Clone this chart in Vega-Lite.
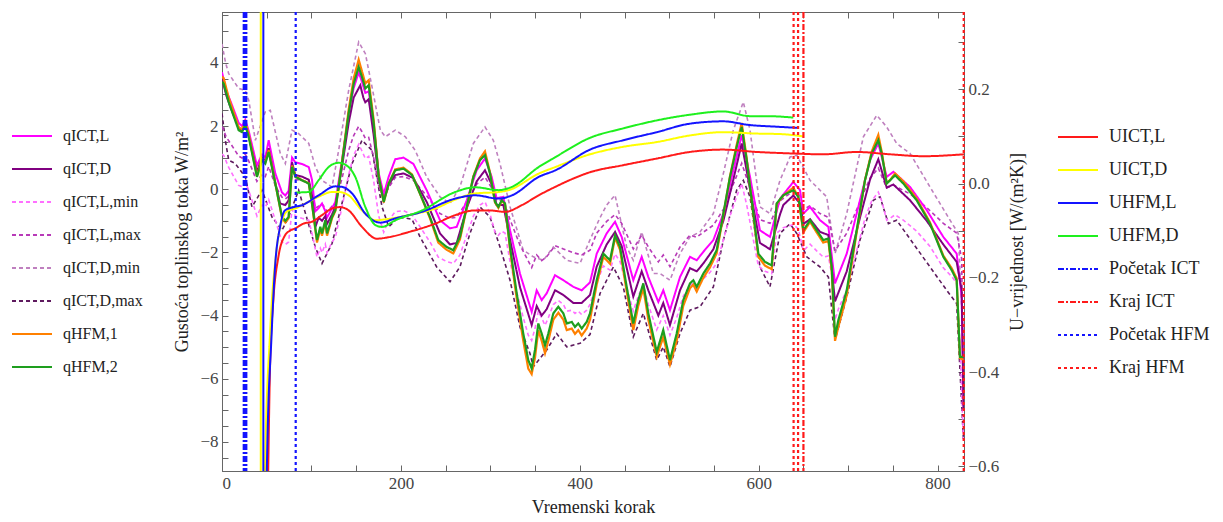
{
"$schema":"https://vega.github.io/schema/vega-lite/v6.json",
"width":742,"height":459,
"autosize":"none",
"padding":{"left":222,"top":12,"right":259,"bottom":51},
"config":{"font":"Liberation Serif","view":{"stroke":"#666","strokeWidth":1},
"axis":{"labelFont":"Liberation Serif","titleFont":"Liberation Serif","labelFontSize":17,"titleFontSize":18,"titleFontWeight":"normal","labelColor":"#444","titleColor":"#222","domainColor":"#666","tickColor":"#666","grid":false,"tickSize":-6,"labelPadding":10}},
"datasets":{
"qa":[{"x":0,"v":4.6},{"x":4,"v":4.0},{"x":7.5,"v":3.66},{"x":18.6,"v":3.19},{"x":26,"v":3.13},{"x":30,"v":2.8},{"x":37.3,"v":1.55},{"x":48.4,"v":2.45},{"x":54,"v":2.5},{"x":65.2,"v":1.13},{"x":70.8,"v":0.81},{"x":78.3,"v":1.87},{"x":85.7,"v":1.76},{"x":97,"v":1.45},{"x":104.3,"v":0.71},{"x":111.8,"v":0.28},{"x":123,"v":0.07},{"x":130.4,"v":1.23},{"x":141.6,"v":3.13},{"x":152.8,"v":4.66},{"x":160.3,"v":4.29},{"x":167.7,"v":3.24},{"x":177,"v":1.87},{"x":182.6,"v":1.66},{"x":193.7,"v":1.87},{"x":205,"v":1.66},{"x":216,"v":1.23},{"x":228.8,"v":0.39},{"x":243.7,"v":-0.24},{"x":254.9,"v":-0.45},{"x":266,"v":0.07},{"x":281,"v":1.45},{"x":294,"v":1.97},{"x":303.3,"v":1.55},{"x":310.8,"v":0.81},{"x":322,"v":-0.56},{"x":336.8,"v":-1.93},{"x":348,"v":-2.14},{"x":359.2,"v":-2.25},{"x":370.4,"v":-1.83},{"x":385.4,"v":-2.25},{"x":400.2,"v":-2.35},{"x":411.4,"v":-1.6},{"x":422.6,"v":-0.9},{"x":430,"v":-0.5},{"x":439.4,"v":-0.19},{"x":452.4,"v":-1.83},{"x":459.8,"v":-2.25},{"x":469.2,"v":-1.35},{"x":482.2,"v":-2.67},{"x":489.7,"v":-2.67},{"x":500.8,"v":-2.88},{"x":512,"v":-2.04},{"x":523.2,"v":-1.51},{"x":534.4,"v":-1.35},{"x":549.3,"v":-0.77},{"x":560.5,"v":0.5},{"x":571.6,"v":1.87},{"x":582.8,"v":2.76},{"x":590.3,"v":1.87},{"x":601.4,"v":-0.56},{"x":612.6,"v":-0.77},{"x":623.8,"v":0.28},{"x":635,"v":1.02},{"x":642.5,"v":1.08},{"x":657.4,"v":0.28},{"x":676,"v":-0.24},{"x":685.3,"v":-2.04},{"x":698.4,"v":-0.77},{"x":717,"v":1.66},{"x":732,"v":2.34},{"x":743.1,"v":1.97},{"x":754.2,"v":1.45},{"x":769.2,"v":1.13},{"x":791.5,"v":0.07},{"x":813.9,"v":-0.98},{"x":823.1,"v":-1.4},{"x":829,"v":-5.0}],
"qd":[{"x":0,"v":2.4},{"x":4,"v":1.5},{"x":7.5,"v":0.92},{"x":14.9,"v":0.81},{"x":26,"v":0.39},{"x":33.5,"v":-0.56},{"x":44.7,"v":-0.03},{"x":55.9,"v":-0.88},{"x":67.1,"v":-1.3},{"x":74.5,"v":-0.88},{"x":85.7,"v":-0.03},{"x":104.3,"v":-1.83},{"x":111.8,"v":-2.35},{"x":123,"v":-1.72},{"x":134.1,"v":-0.45},{"x":145.4,"v":0.81},{"x":156.5,"v":1.55},{"x":167.7,"v":1.23},{"x":178.9,"v":-0.56},{"x":186.4,"v":-1.19},{"x":197.5,"v":-0.88},{"x":212.4,"v":-0.95},{"x":221.4,"v":-1.51},{"x":240,"v":-2.46},{"x":254.9,"v":-2.93},{"x":266,"v":-2.46},{"x":277.2,"v":-1.4},{"x":288.4,"v":-0.56},{"x":299.6,"v":-0.88},{"x":310.8,"v":-1.83},{"x":322,"v":-2.88},{"x":333.1,"v":-4.36},{"x":344.3,"v":-5.2},{"x":348,"v":-5.62},{"x":363,"v":-5.09},{"x":374.2,"v":-4.57},{"x":385.4,"v":-4.99},{"x":400.2,"v":-4.88},{"x":411.4,"v":-4.6},{"x":422.6,"v":-3.3},{"x":437.5,"v":-2.46},{"x":448.6,"v":-3.09},{"x":459.8,"v":-4.67},{"x":471,"v":-3.93},{"x":486,"v":-5.41},{"x":493.3,"v":-4.99},{"x":500.8,"v":-5.62},{"x":512,"v":-4.57},{"x":523.2,"v":-3.83},{"x":534.4,"v":-3.72},{"x":549.3,"v":-3.09},{"x":560.5,"v":-1.61},{"x":575.4,"v":-0.03},{"x":582.8,"v":0.28},{"x":590.3,"v":-0.24},{"x":601.4,"v":-2.46},{"x":612.6,"v":-3.09},{"x":623.8,"v":-1.4},{"x":635,"v":-1.09},{"x":642.5,"v":-1.4},{"x":653.7,"v":-2.14},{"x":668.5,"v":-2.46},{"x":677.9,"v":-2.78},{"x":685.3,"v":-4.78},{"x":698.4,"v":-3.41},{"x":713.2,"v":-1.61},{"x":728.1,"v":-0.35},{"x":735.6,"v":-0.24},{"x":745,"v":-1.09},{"x":754.2,"v":-0.98},{"x":772.8,"v":-1.72},{"x":791.5,"v":-2.46},{"x":810.2,"v":-3.2},{"x":821.3,"v":-3.62},{"x":829,"v":-8.0}],
"qb":[{"x":0,"v":1.11},{"x":1.9,"v":1.07},{"x":7.5,"v":0.69},{"x":18.6,"v":0.12},{"x":22.4,"v":0.08},{"x":26,"v":0.22},{"x":29.8,"v":-0.02},{"x":39.1,"v":-0.85},{"x":44.7,"v":-0.5},{"x":48.4,"v":-0.57},{"x":52.2,"v":-0.33},{"x":59.6,"v":-0.98},{"x":67.1,"v":-1.67},{"x":70.8,"v":-1.75},{"x":74.5,"v":-1.67},{"x":78.3,"v":-0.64},{"x":82,"v":-0.85},{"x":89.4,"v":-0.92},{"x":97,"v":-0.98},{"x":100.6,"v":-1.39},{"x":106.2,"v":-2.15},{"x":109.9,"v":-1.87},{"x":111.8,"v":-2.01},{"x":115.5,"v":-1.74},{"x":117.4,"v":-2.01},{"x":123,"v":-1.67},{"x":126.7,"v":-1.53},{"x":134.1,"v":-0.57},{"x":141.6,"v":0.46},{"x":147.2,"v":1.07},{"x":152.8,"v":1.42},{"x":156.5,"v":1.21},{"x":160.2,"v":0.97},{"x":164,"v":1.04},{"x":169.6,"v":0.25},{"x":175.2,"v":-0.85},{"x":180.8,"v":-1.36},{"x":186.4,"v":-0.98},{"x":193.7,"v":-0.71},{"x":203,"v":-0.68},{"x":212.4,"v":-0.81},{"x":221.4,"v":-1.19},{"x":232.5,"v":-1.67},{"x":241.8,"v":-2.15},{"x":251.2,"v":-2.29},{"x":258.6,"v":-2.35},{"x":266,"v":-2.08},{"x":273.6,"v":-1.46},{"x":281,"v":-0.85},{"x":288.4,"v":-0.5},{"x":294,"v":-0.4},{"x":299.6,"v":-0.78},{"x":305.2,"v":-1.36},{"x":309,"v":-1.46},{"x":312.7,"v":-1.33},{"x":316.4,"v":-1.39},{"x":322,"v":-2.29},{"x":329.5,"v":-3.25},{"x":336.8,"v":-4.07},{"x":342.4,"v":-4.62},{"x":346.2,"v":-4.79},{"x":349.9,"v":-4.41},{"x":353.6,"v":-3.86},{"x":357.4,"v":-4.07},{"x":361.1,"v":-4.31},{"x":364.8,"v":-4.07},{"x":370.4,"v":-3.65},{"x":376,"v":-3.52},{"x":381.6,"v":-3.65},{"x":385.4,"v":-3.86},{"x":391,"v":-3.83},{"x":394.6,"v":-3.93},{"x":398.3,"v":-3.86},{"x":402.1,"v":-3.97},{"x":407.7,"v":-3.83},{"x":411.4,"v":-3.65},{"x":418.9,"v":-2.97},{"x":426.3,"v":-2.43},{"x":433.8,"v":-2.56},{"x":439.4,"v":-2.05},{"x":445,"v":-2.29},{"x":452.4,"v":-3.11},{"x":459.8,"v":-3.86},{"x":465.4,"v":-3.38},{"x":471,"v":-3.04},{"x":476.6,"v":-3.65},{"x":486,"v":-4.45},{"x":493.3,"v":-4.0},{"x":500.8,"v":-4.62},{"x":508.3,"v":-4.07},{"x":515.7,"v":-3.38},{"x":523.2,"v":-3.04},{"x":526.9,"v":-2.97},{"x":530.7,"v":-3.11},{"x":538.1,"v":-2.84},{"x":545.6,"v":-2.63},{"x":553,"v":-2.35},{"x":560.5,"v":-1.6},{"x":567.9,"v":-0.85},{"x":575.4,"v":-0.23},{"x":581,"v":0.18},{"x":586.6,"v":-0.5},{"x":594,"v":-1.6},{"x":599.6,"v":-2.43},{"x":607,"v":-2.6},{"x":614.5,"v":-2.67},{"x":620.1,"v":-1.39},{"x":627.5,"v":-1.22},{"x":638.7,"v":-1.12},{"x":644.3,"v":-1.26},{"x":649.9,"v":-1.95},{"x":657.4,"v":-1.74},{"x":664.8,"v":-1.95},{"x":672.2,"v":-2.15},{"x":677.9,"v":-2.11},{"x":681.6,"v":-2.7},{"x":685.3,"v":-4.14},{"x":689,"v":-3.8},{"x":698.4,"v":-3.18},{"x":709.5,"v":-1.95},{"x":718.8,"v":-0.92},{"x":726.3,"v":-0.37},{"x":733.7,"v":-0.09},{"x":737.5,"v":-0.37},{"x":743.1,"v":-0.98},{"x":746.8,"v":-0.92},{"x":752.4,"v":-0.81},{"x":761.7,"v":-0.98},{"x":776.6,"v":-1.33},{"x":791.5,"v":-1.81},{"x":806.4,"v":-2.49},{"x":815.7,"v":-2.76},{"x":821.3,"v":-2.97},{"x":825,"v":-5.0},{"x":829,"v":-8.0}],
"qc":[{"x":0,"v":1.99},{"x":5,"v":1.64},{"x":10,"v":1.43},{"x":18.6,"v":1.05},{"x":22.4,"v":0.99},{"x":26,"v":1.11},{"x":29.8,"v":0.9},{"x":39,"v":0.25},{"x":44.7,"v":0.46},{"x":48.4,"v":0.4},{"x":52.2,"v":0.72},{"x":59.6,"v":0.11},{"x":67,"v":-0.25},{"x":70.8,"v":-0.31},{"x":74.5,"v":-0.22},{"x":78.3,"v":0.4},{"x":82,"v":0.31},{"x":89.4,"v":0.28},{"x":97,"v":0.22},{"x":100.6,"v":-0.01},{"x":104.3,"v":-0.6},{"x":108,"v":-0.54},{"x":111.8,"v":-0.46},{"x":115.5,"v":-0.6},{"x":117.4,"v":-0.72},{"x":123,"v":-0.54},{"x":126.7,"v":-0.43},{"x":134.1,"v":0.34},{"x":141.6,"v":1.23},{"x":147.2,"v":1.7},{"x":152.8,"v":1.99},{"x":156.5,"v":1.82},{"x":160.2,"v":1.61},{"x":164,"v":1.64},{"x":169.6,"v":0.99},{"x":175.2,"v":0.11},{"x":180.8,"v":-0.28},{"x":186.4,"v":0.05},{"x":193.7,"v":0.37},{"x":203,"v":0.4},{"x":214,"v":0.28},{"x":228.8,"v":-0.21},{"x":243.7,"v":-0.77},{"x":254.9,"v":-0.92},{"x":262.4,"v":-0.89},{"x":273.6,"v":-0.4},{"x":284.7,"v":0.16},{"x":294,"v":0.38},{"x":301.5,"v":0.04},{"x":307,"v":-0.36},{"x":314.5,"v":-0.33},{"x":322,"v":-0.96},{"x":333.1,"v":-1.77},{"x":346.2,"v":-2.48},{"x":351.8,"v":-2.08},{"x":357.4,"v":-2.26},{"x":362.9,"v":-2.14},{"x":372.3,"v":-1.79},{"x":381.6,"v":-1.89},{"x":392.8,"v":-2.01},{"x":402.1,"v":-2.08},{"x":411.4,"v":-1.93},{"x":418.9,"v":-1.39},{"x":430,"v":-1.02},{"x":439.4,"v":-0.8},{"x":446.8,"v":-1.08},{"x":459.8,"v":-1.89},{"x":469.2,"v":-1.45},{"x":476.6,"v":-1.83},{"x":487.8,"v":-2.3},{"x":493.3,"v":-2.08},{"x":500.8,"v":-2.45},{"x":512,"v":-1.83},{"x":523.2,"v":-1.45},{"x":530.7,"v":-1.52},{"x":538.1,"v":-1.36},{"x":549.3,"v":-1.14},{"x":560.5,"v":-0.64},{"x":571.6,"v":0.16},{"x":581,"v":0.82},{"x":590.3,"v":0.04},{"x":601.4,"v":-0.96},{"x":612.6,"v":-1.08},{"x":623.8,"v":-0.37},{"x":638.7,"v":-0.05},{"x":646.2,"v":-0.21},{"x":649.9,"v":-0.64},{"x":657.4,"v":-0.52},{"x":668.5,"v":-0.77},{"x":677.9,"v":-0.89},{"x":685.3,"v":-1.95},{"x":698.4,"v":-1.39},{"x":713.2,"v":-0.4},{"x":724.4,"v":0.35},{"x":733.7,"v":0.67},{"x":743.1,"v":0.04},{"x":750.5,"v":0.13},{"x":769.2,"v":-0.15},{"x":787.8,"v":-0.58},{"x":806.4,"v":-1.08},{"x":821.3,"v":-1.39},{"x":826.9,"v":-2.2},{"x":829,"v":-7.0}],
"qm":[{"x":0,"v":3.7},{"x":5,"v":3.1},{"x":10,"v":2.75},{"x":18.6,"v":2.1},{"x":22.4,"v":2.0},{"x":26,"v":2.2},{"x":29.8,"v":1.85},{"x":39,"v":0.75},{"x":44.7,"v":1.1},{"x":48.4,"v":1.0},{"x":52.2,"v":1.55},{"x":59.6,"v":0.5},{"x":67,"v":-0.1},{"x":70.8,"v":-0.2},{"x":74.5,"v":-0.05},{"x":78.3,"v":1.0},{"x":82,"v":0.85},{"x":89.4,"v":0.8},{"x":97,"v":0.7},{"x":100.6,"v":0.3},{"x":104.3,"v":-0.7},{"x":108,"v":-0.6},{"x":111.8,"v":-0.45},{"x":115.5,"v":-0.7},{"x":117.4,"v":-0.9},{"x":123,"v":-0.6},{"x":126.7,"v":-0.4},{"x":134.1,"v":0.9},{"x":141.6,"v":2.4},{"x":147.2,"v":3.2},{"x":152.8,"v":3.7},{"x":156.5,"v":3.4},{"x":160.2,"v":3.05},{"x":164,"v":3.1},{"x":169.6,"v":2.0},{"x":175.2,"v":0.5},{"x":180.8,"v":-0.15},{"x":186.4,"v":0.4},{"x":193.7,"v":0.95},{"x":203,"v":1.0},{"x":214,"v":0.8},{"x":228.8,"v":-0.03},{"x":243.7,"v":-0.98},{"x":254.9,"v":-1.24},{"x":262.4,"v":-1.19},{"x":273.6,"v":-0.35},{"x":284.7,"v":0.6},{"x":294,"v":0.97},{"x":301.5,"v":0.39},{"x":307,"v":-0.29},{"x":314.5,"v":-0.24},{"x":322,"v":-1.3},{"x":333.1,"v":-2.67},{"x":346.2,"v":-3.88},{"x":351.8,"v":-3.2},{"x":357.4,"v":-3.51},{"x":362.9,"v":-3.3},{"x":372.3,"v":-2.72},{"x":381.6,"v":-2.88},{"x":392.8,"v":-3.09},{"x":402.1,"v":-3.2},{"x":411.4,"v":-2.95},{"x":418.9,"v":-2.04},{"x":430,"v":-1.4},{"x":439.4,"v":-1.03},{"x":446.8,"v":-1.51},{"x":459.8,"v":-2.88},{"x":469.2,"v":-2.14},{"x":476.6,"v":-2.78},{"x":487.8,"v":-3.57},{"x":493.3,"v":-3.2},{"x":500.8,"v":-3.83},{"x":512,"v":-2.78},{"x":523.2,"v":-2.14},{"x":530.7,"v":-2.25},{"x":538.1,"v":-1.98},{"x":549.3,"v":-1.61},{"x":560.5,"v":-0.77},{"x":571.6,"v":0.6},{"x":581,"v":1.71},{"x":590.3,"v":0.39},{"x":601.4,"v":-1.3},{"x":612.6,"v":-1.51},{"x":623.8,"v":-0.3},{"x":638.7,"v":0.23},{"x":646.2,"v":-0.03},{"x":649.9,"v":-0.77},{"x":657.4,"v":-0.56},{"x":668.5,"v":-0.98},{"x":677.9,"v":-1.19},{"x":685.3,"v":-2.98},{"x":698.4,"v":-2.04},{"x":713.2,"v":-0.35},{"x":724.4,"v":0.92},{"x":733.7,"v":1.45},{"x":743.1,"v":0.39},{"x":750.5,"v":0.55},{"x":769.2,"v":0.07},{"x":787.8,"v":-0.66},{"x":806.4,"v":-1.51},{"x":821.3,"v":-2.04},{"x":826.9,"v":-3.41},{"x":829,"v":-6.5}],
"qp":[{"x":0,"v":3.5},{"x":5,"v":2.95},{"x":10,"v":2.55},{"x":18.6,"v":1.95},{"x":22.4,"v":1.85},{"x":26,"v":2.05},{"x":29.8,"v":1.7},{"x":39,"v":0.55},{"x":44.7,"v":1.0},{"x":48.4,"v":0.9},{"x":52.2,"v":1.3},{"x":59.6,"v":0.2},{"x":65,"v":-0.45},{"x":70.8,"v":-0.5},{"x":74.5,"v":-0.35},{"x":78.3,"v":0.85},{"x":82,"v":0.45},{"x":89.4,"v":0.4},{"x":97,"v":0.3},{"x":100.6,"v":-0.2},{"x":104.3,"v":-1.2},{"x":108,"v":-0.9},{"x":111.8,"v":-1.0},{"x":115.5,"v":-0.85},{"x":117.4,"v":-1.1},{"x":123,"v":-0.8},{"x":126.7,"v":-0.55},{"x":134.1,"v":0.7},{"x":141.6,"v":2.1},{"x":147.2,"v":2.9},{"x":154.6,"v":3.29},{"x":158,"v":2.9},{"x":160.2,"v":2.75},{"x":164,"v":2.85},{"x":169.6,"v":1.7},{"x":175.2,"v":0.3},{"x":180.8,"v":-0.35},{"x":186.4,"v":0.15},{"x":193.7,"v":0.45},{"x":203,"v":0.5},{"x":214,"v":0.35},{"x":228.8,"v":-0.4},{"x":243.7,"v":-1.4},{"x":254.9,"v":-1.75},{"x":262.4,"v":-1.7},{"x":273.6,"v":-0.6},{"x":284.7,"v":0.25},{"x":294,"v":0.6},{"x":301.5,"v":0.15},{"x":307,"v":-0.5},{"x":314.5,"v":-0.5},{"x":322,"v":-1.6},{"x":333.1,"v":-3.1},{"x":346.2,"v":-4.3},{"x":351.8,"v":-3.7},{"x":357.4,"v":-4.0},{"x":362.9,"v":-3.8},{"x":372.3,"v":-3.2},{"x":381.6,"v":-3.35},{"x":392.8,"v":-3.6},{"x":402.1,"v":-3.6},{"x":411.4,"v":-3.35},{"x":418.9,"v":-2.45},{"x":430,"v":-1.75},{"x":439.4,"v":-1.35},{"x":446.8,"v":-1.8},{"x":459.8,"v":-3.4},{"x":469.2,"v":-2.6},{"x":476.6,"v":-3.2},{"x":487.8,"v":-4.0},{"x":493.3,"v":-3.6},{"x":500.8,"v":-4.3},{"x":512,"v":-3.2},{"x":523.2,"v":-2.5},{"x":530.7,"v":-2.6},{"x":538.1,"v":-2.35},{"x":549.3,"v":-1.9},{"x":560.5,"v":-1.0},{"x":571.6,"v":0.3},{"x":581,"v":1.45},{"x":590.3,"v":0.0},{"x":601.4,"v":-1.7},{"x":612.6,"v":-1.9},{"x":623.8,"v":-0.8},{"x":627.5,"v":-0.5},{"x":638.7,"v":-0.2},{"x":646.2,"v":-0.45},{"x":649.9,"v":-1.1},{"x":657.4,"v":-0.95},{"x":668.5,"v":-1.35},{"x":677.9,"v":-1.45},{"x":685.3,"v":-3.55},{"x":698.4,"v":-2.6},{"x":713.2,"v":-0.9},{"x":724.4,"v":0.3},{"x":733.7,"v":0.95},{"x":743.1,"v":0.05},{"x":750.5,"v":0.15},{"x":769.2,"v":-0.35},{"x":787.8,"v":-1.0},{"x":806.4,"v":-1.75},{"x":821.3,"v":-2.3},{"x":826.9,"v":-3.2},{"x":829,"v":-7.0}],
"qo":[{"x":0,"v":3.57},{"x":1.9,"v":3.51},{"x":7.5,"v":2.9},{"x":18.6,"v":1.96},{"x":22.4,"v":1.9},{"x":26,"v":2.13},{"x":29.8,"v":1.74},{"x":39.1,"v":0.41},{"x":44.7,"v":0.97},{"x":48.4,"v":0.85},{"x":52.2,"v":1.24},{"x":59.6,"v":0.19},{"x":67.1,"v":-0.92},{"x":70.8,"v":-1.05},{"x":74.5,"v":-0.92},{"x":78.3,"v":0.75},{"x":82,"v":0.41},{"x":89.4,"v":0.29},{"x":97,"v":0.19},{"x":100.6,"v":-0.47},{"x":106.2,"v":-1.69},{"x":109.9,"v":-1.25},{"x":111.8,"v":-1.47},{"x":115.5,"v":-1.03},{"x":117.4,"v":-1.47},{"x":123,"v":-0.92},{"x":126.7,"v":-0.69},{"x":134.1,"v":0.85},{"x":141.6,"v":2.52},{"x":147.2,"v":3.51},{"x":152.8,"v":4.1},{"x":156.5,"v":3.73},{"x":160.2,"v":3.35},{"x":164,"v":3.45},{"x":169.6,"v":2.18},{"x":175.2,"v":0.41},{"x":180.8,"v":-0.42},{"x":186.4,"v":0.19},{"x":193.7,"v":0.63},{"x":203,"v":0.68},{"x":212.4,"v":0.47},{"x":221.4,"v":-0.15},{"x":232.5,"v":-0.92},{"x":241.8,"v":-1.69},{"x":251.2,"v":-1.92},{"x":258.6,"v":-2.03},{"x":266,"v":-1.59},{"x":273.6,"v":-0.59},{"x":281,"v":0.41},{"x":288.4,"v":0.97},{"x":294,"v":1.2},{"x":299.6,"v":0.53},{"x":305.2,"v":-0.42},{"x":309,"v":-0.59},{"x":312.7,"v":-0.37},{"x":316.4,"v":-0.47},{"x":322,"v":-1.92},{"x":329.5,"v":-3.47},{"x":336.8,"v":-4.8},{"x":342.4,"v":-5.68},{"x":346.2,"v":-5.85},{"x":349.9,"v":-5.34},{"x":353.6,"v":-4.46},{"x":357.4,"v":-4.8},{"x":361.1,"v":-5.19},{"x":364.8,"v":-4.8},{"x":370.4,"v":-4.13},{"x":376,"v":-3.91},{"x":381.6,"v":-4.13},{"x":385.4,"v":-4.46},{"x":391,"v":-4.41},{"x":394.6,"v":-4.58},{"x":398.3,"v":-4.46},{"x":402.1,"v":-4.63},{"x":407.7,"v":-4.41},{"x":411.4,"v":-4.13},{"x":418.9,"v":-3.02},{"x":426.3,"v":-2.14},{"x":433.8,"v":-2.36},{"x":439.4,"v":-1.53},{"x":445,"v":-1.92},{"x":452.4,"v":-3.24},{"x":459.8,"v":-4.46},{"x":465.4,"v":-3.69},{"x":471,"v":-3.13},{"x":476.6,"v":-4.13},{"x":486,"v":-5.3},{"x":493.3,"v":-4.68},{"x":500.8,"v":-5.55},{"x":508.3,"v":-4.8},{"x":515.7,"v":-3.69},{"x":523.2,"v":-3.13},{"x":526.9,"v":-3.02},{"x":530.7,"v":-3.24},{"x":538.1,"v":-2.8},{"x":545.6,"v":-2.47},{"x":553,"v":-2.03},{"x":560.5,"v":-0.81},{"x":567.9,"v":0.41},{"x":575.4,"v":1.41},{"x":581,"v":2.1},{"x":586.6,"v":0.97},{"x":594,"v":-0.81},{"x":599.6,"v":-2.14},{"x":607,"v":-2.42},{"x":614.5,"v":-2.53},{"x":620.1,"v":-0.47},{"x":627.5,"v":-0.2},{"x":638.7,"v":0.05},{"x":644.3,"v":-0.25},{"x":649.9,"v":-1.37},{"x":657.4,"v":-1.03},{"x":664.8,"v":-1.37},{"x":672.2,"v":-1.69},{"x":677.9,"v":-1.64},{"x":681.6,"v":-2.58},{"x":685.3,"v":-4.8},{"x":689,"v":-4.36},{"x":698.4,"v":-3.36},{"x":709.5,"v":-1.37},{"x":718.8,"v":0.29},{"x":726.3,"v":1.19},{"x":733.7,"v":1.72},{"x":737.5,"v":1.19},{"x":743.1,"v":0.19},{"x":746.8,"v":0.29},{"x":752.4,"v":0.5},{"x":761.7,"v":0.25},{"x":776.6,"v":-0.3},{"x":791.5,"v":-1.05},{"x":806.4,"v":-2.1},{"x":815.7,"v":-2.5},{"x":821.3,"v":-2.82},{"x":825,"v":-5.35},{"x":829,"v":-5.4}],
"qg":[{"x":0,"v":3.4},{"x":1.9,"v":3.34},{"x":7.5,"v":2.76},{"x":18.6,"v":1.87},{"x":22.4,"v":1.81},{"x":26,"v":2.03},{"x":29.8,"v":1.66},{"x":39.1,"v":0.39},{"x":44.7,"v":0.92},{"x":48.4,"v":0.81},{"x":52.2,"v":1.18},{"x":59.6,"v":0.18},{"x":67.1,"v":-0.88},{"x":70.8,"v":-1.0},{"x":74.5,"v":-0.88},{"x":78.3,"v":0.71},{"x":82,"v":0.39},{"x":89.4,"v":0.28},{"x":97,"v":0.18},{"x":100.6,"v":-0.45},{"x":106.2,"v":-1.61},{"x":109.9,"v":-1.19},{"x":111.8,"v":-1.4},{"x":115.5,"v":-0.98},{"x":117.4,"v":-1.4},{"x":123,"v":-0.88},{"x":126.7,"v":-0.66},{"x":134.1,"v":0.81},{"x":141.6,"v":2.4},{"x":147.2,"v":3.34},{"x":152.8,"v":3.87},{"x":156.5,"v":3.55},{"x":160.2,"v":3.19},{"x":164,"v":3.29},{"x":169.6,"v":2.08},{"x":175.2,"v":0.39},{"x":180.8,"v":-0.4},{"x":186.4,"v":0.18},{"x":193.7,"v":0.6},{"x":203,"v":0.65},{"x":212.4,"v":0.45},{"x":221.4,"v":-0.14},{"x":232.5,"v":-0.88},{"x":241.8,"v":-1.61},{"x":251.2,"v":-1.83},{"x":258.6,"v":-1.93},{"x":266,"v":-1.51},{"x":273.6,"v":-0.56},{"x":281,"v":0.39},{"x":288.4,"v":0.92},{"x":294,"v":1.08},{"x":299.6,"v":0.5},{"x":305.2,"v":-0.4},{"x":309,"v":-0.56},{"x":312.7,"v":-0.35},{"x":316.4,"v":-0.45},{"x":322,"v":-1.83},{"x":329.5,"v":-3.3},{"x":336.8,"v":-4.57},{"x":342.4,"v":-5.41},{"x":346.2,"v":-5.67},{"x":349.9,"v":-5.09},{"x":353.6,"v":-4.25},{"x":357.4,"v":-4.57},{"x":361.1,"v":-4.94},{"x":364.8,"v":-4.57},{"x":370.4,"v":-3.93},{"x":376,"v":-3.72},{"x":381.6,"v":-3.93},{"x":385.4,"v":-4.25},{"x":391,"v":-4.2},{"x":394.6,"v":-4.36},{"x":398.3,"v":-4.25},{"x":402.1,"v":-4.41},{"x":407.7,"v":-4.2},{"x":411.4,"v":-3.93},{"x":418.9,"v":-2.88},{"x":426.3,"v":-2.04},{"x":433.8,"v":-2.25},{"x":439.4,"v":-1.46},{"x":445,"v":-1.83},{"x":452.4,"v":-3.09},{"x":459.8,"v":-4.25},{"x":465.4,"v":-3.51},{"x":471,"v":-2.98},{"x":476.6,"v":-3.93},{"x":486,"v":-5.15},{"x":493.3,"v":-4.46},{"x":500.8,"v":-5.41},{"x":508.3,"v":-4.57},{"x":515.7,"v":-3.51},{"x":523.2,"v":-2.98},{"x":526.9,"v":-2.88},{"x":530.7,"v":-3.09},{"x":538.1,"v":-2.67},{"x":545.6,"v":-2.35},{"x":553,"v":-1.93},{"x":560.5,"v":-0.77},{"x":567.9,"v":0.39},{"x":575.4,"v":1.34},{"x":581,"v":1.97},{"x":586.6,"v":0.92},{"x":594,"v":-0.77},{"x":599.6,"v":-2.04},{"x":607,"v":-2.3},{"x":614.5,"v":-2.41},{"x":620.1,"v":-0.45},{"x":627.5,"v":-0.19},{"x":638.7,"v":-0.03},{"x":644.3,"v":-0.24},{"x":649.9,"v":-1.3},{"x":657.4,"v":-0.98},{"x":664.8,"v":-1.3},{"x":672.2,"v":-1.61},{"x":677.9,"v":-1.56},{"x":681.6,"v":-2.46},{"x":685.3,"v":-4.67},{"x":689,"v":-4.15},{"x":698.4,"v":-3.2},{"x":709.5,"v":-1.3},{"x":718.8,"v":0.28},{"x":726.3,"v":1.13},{"x":733.7,"v":1.55},{"x":737.5,"v":1.13},{"x":743.1,"v":0.18},{"x":746.8,"v":0.28},{"x":752.4,"v":0.44},{"x":761.7,"v":0.18},{"x":776.6,"v":-0.35},{"x":791.5,"v":-1.09},{"x":806.4,"v":-2.14},{"x":815.7,"v":-2.56},{"x":821.3,"v":-2.88},{"x":825,"v":-5.31},{"x":829,"v":-5.31}],
"ul":[{"x":51,"v":-0.7},{"x":53.7,"v":-0.389},{"x":57.4,"v":-0.247},{"x":63,"v":-0.156},{"x":70.4,"v":-0.11},{"x":76,"v":-0.1},{"x":82,"v":-0.095},{"x":91,"v":-0.085},{"x":100.6,"v":-0.081},{"x":111.8,"v":-0.067},{"x":123,"v":-0.053},{"x":132,"v":-0.05},{"x":141.6,"v":-0.057},{"x":156.5,"v":-0.092},{"x":173,"v":-0.117},{"x":186,"v":-0.114},{"x":208.7,"v":-0.103},{"x":238.5,"v":-0.085},{"x":260.8,"v":-0.067},{"x":283,"v":-0.057},{"x":298,"v":-0.057},{"x":316.8,"v":-0.06},{"x":335,"v":-0.046},{"x":354,"v":-0.025},{"x":372.6,"v":-0.007},{"x":392,"v":0.01},{"x":411.4,"v":0.024},{"x":448.6,"v":0.039},{"x":486,"v":0.053},{"x":523,"v":0.067},{"x":560.4,"v":0.072},{"x":597.7,"v":0.067},{"x":635,"v":0.064},{"x":672.2,"v":0.062},{"x":709.5,"v":0.067},{"x":747,"v":0.062},{"x":784,"v":0.058},{"x":829.5,"v":0.062}],
"ud":[{"x":43.3,"v":5},{"x":43.4,"v":-5},{"x":48,"v":-0.62},{"x":53.7,"v":-0.318},{"x":61,"v":-0.141},{"x":68.5,"v":-0.071},{"x":74.5,"v":-0.057},{"x":82,"v":-0.053},{"x":89.4,"v":-0.046},{"x":108,"v":-0.028},{"x":123,"v":-0.018},{"x":130.4,"v":-0.018},{"x":141.6,"v":-0.025},{"x":156.5,"v":-0.057},{"x":171.4,"v":-0.078},{"x":182.6,"v":-0.076},{"x":208.7,"v":-0.067},{"x":238.5,"v":-0.053},{"x":260.8,"v":-0.034},{"x":283,"v":-0.021},{"x":309.3,"v":-0.018},{"x":320.5,"v":-0.014},{"x":354,"v":0.021},{"x":372.6,"v":0.035},{"x":411.4,"v":0.062},{"x":448.6,"v":0.078},{"x":486,"v":0.088},{"x":523,"v":0.102},{"x":560.4,"v":0.109},{"x":597.7,"v":0.106},{"x":623.8,"v":0.105},{"x":649.9,"v":0.1}],
"hl":[{"x":46.2,"v":5},{"x":46.3,"v":-5},{"x":50,"v":-0.62},{"x":55.5,"v":-0.318},{"x":59.3,"v":-0.177},{"x":64.9,"v":-0.092},{"x":70.4,"v":-0.057},{"x":79.7,"v":-0.05},{"x":89.4,"v":-0.046},{"x":108,"v":-0.025},{"x":126.7,"v":-0.006},{"x":134.1,"v":-0.007},{"x":145.4,"v":-0.021},{"x":160.3,"v":-0.064},{"x":177,"v":-0.083},{"x":193.7,"v":-0.074},{"x":223.6,"v":-0.06},{"x":260.8,"v":-0.032},{"x":283,"v":-0.025},{"x":309.3,"v":-0.032},{"x":324.2,"v":-0.025},{"x":354,"v":0.014},{"x":372.6,"v":0.028},{"x":411.4,"v":0.072},{"x":448.6,"v":0.092},{"x":486,"v":0.109},{"x":523,"v":0.127},{"x":560.4,"v":0.132},{"x":590.3,"v":0.124},{"x":616.4,"v":0.121},{"x":644.3,"v":0.118}],
"hd":[{"x":82,"v":-0.019},{"x":97,"v":-0.018},{"x":108,"v":0.007},{"x":119.2,"v":0.035},{"x":130.4,"v":0.044},{"x":137.9,"v":0.04},{"x":149,"v":0.014},{"x":160.3,"v":-0.05},{"x":171.4,"v":-0.088},{"x":178.9,"v":-0.092},{"x":193.7,"v":-0.078},{"x":223.6,"v":-0.057},{"x":260.8,"v":-0.018},{"x":283,"v":-0.008},{"x":309.3,"v":-0.014},{"x":324.2,"v":-0.007},{"x":354,"v":0.035},{"x":372.6,"v":0.056},{"x":411.4,"v":0.097},{"x":448.6,"v":0.117},{"x":486,"v":0.134},{"x":523,"v":0.146},{"x":560.4,"v":0.153},{"x":590.3,"v":0.143},{"x":609,"v":0.143},{"x":638.7,"v":0.14}],
"pi":[{"x":24.5},{"x":27}],
"ki":[{"x":650}],
"ph":[{"x":82.4}],
"kh":[{"x":639},{"x":644},{"x":829.2}]
},
"layer":[
{"encoding":{
"x":{"field":"x","type":"quantitative","scale":{"domain":[0,829.5],"nice":false,"zero":false},"axis":{"orient":"bottom","title":"Vremenski korak","titlePadding":7,"values":[0,50,100,150,200,250,300,350,400,450,500,550,600,650,700,750,800],"labelExpr":"datum.value % 200 === 0 ? datum.label : ''"}},
"y":{"field":"v","type":"quantitative","scale":{"domain":[-8.92,5.61],"nice":false,"zero":false},"axis":{"orient":"left","title":"Gustoća toplinskog toka W/m²","titlePadding":8,"values":[-8.5,-8,-7.5,-7,-6.5,-6,-5.5,-5,-4.5,-4,-3.5,-3,-2.5,-2,-1.5,-1,-0.5,0,0.5,1,1.5,2,2.5,3,3.5,4,4.5,5,5.5],"labelExpr":"datum.value % 2 === 0 ? format(datum.value, 'd') : ''"}}},
"layer":[
{"data":{"name":"qa"},"mark":{"type":"line","strokeWidth":1.6,"clip":true},"encoding":{
"color":{"datum":"qICT,D,min","type":"nominal","scale":{"domain":["qICT,L","qICT,D","qICT,L,min","qICT,L,max","qICT,D,min","qICT,D,max","qHFM,1","qHFM,2"],"range":["#FF00FF","#800080","#FF70FF","#B83AB8","#BF80BF","#5E1A5E","#FF8000","#1E9E1E"]},"legend":{"title":null,"orient":"none","legendX":-211,"legendY":103,"symbolType":"stroke","symbolSize":1600,"symbolStrokeWidth":2,"labelFont":"Liberation Serif","labelFontSize":16,"labelColor":"#222","labelOffset":10,"rowPadding":4,"padding":0}},
"strokeDash":{"datum":"qICT,D,min","type":"nominal","scale":{"domain":["qICT,L","qICT,D","qICT,L,min","qICT,L,max","qICT,D,min","qICT,D,max","qHFM,1","qHFM,2"],"range":[[1,0],[1,0],[4,3],[4,3],[4,3],[4,3],[1,0],[1,0]]},"legend":{"title":null,"orient":"none","legendX":-211,"legendY":103,"symbolType":"stroke","symbolSize":1600,"symbolStrokeWidth":2,"labelFont":"Liberation Serif","labelFontSize":16,"labelColor":"#222","labelOffset":10,"rowPadding":4,"padding":0}}}},
{"data":{"name":"qd"},"mark":{"type":"line","strokeWidth":1.6,"clip":true},"encoding":{"color":{"datum":"qICT,D,max","type":"nominal"},"strokeDash":{"datum":"qICT,D,max","type":"nominal"}}},
{"data":{"name":"qb"},"mark":{"type":"line","strokeWidth":1.6,"clip":true},"encoding":{"color":{"datum":"qICT,L,min","type":"nominal"},"strokeDash":{"datum":"qICT,L,min","type":"nominal"}}},
{"data":{"name":"qc"},"mark":{"type":"line","strokeWidth":1.6,"clip":true},"encoding":{"color":{"datum":"qICT,L,max","type":"nominal"},"strokeDash":{"datum":"qICT,L,max","type":"nominal"}}},
{"data":{"name":"qm"},"mark":{"type":"line","strokeWidth":2,"clip":true},"encoding":{"color":{"datum":"qICT,L","type":"nominal"},"strokeDash":{"datum":"qICT,L","type":"nominal"}}},
{"data":{"name":"qp"},"mark":{"type":"line","strokeWidth":2,"clip":true},"encoding":{"color":{"datum":"qICT,D","type":"nominal"},"strokeDash":{"datum":"qICT,D","type":"nominal"}}},
{"data":{"name":"qo"},"mark":{"type":"line","strokeWidth":2.2,"clip":true},"encoding":{"color":{"datum":"qHFM,1","type":"nominal"},"strokeDash":{"datum":"qHFM,1","type":"nominal"}}},
{"data":{"name":"qg"},"mark":{"type":"line","strokeWidth":2.2,"clip":true},"encoding":{"color":{"datum":"qHFM,2","type":"nominal"},"strokeDash":{"datum":"qHFM,2","type":"nominal"}}}
]},
{"encoding":{
"x":{"field":"x","type":"quantitative","axis":{"orient":"top","labels":false,"title":null,"values":[0,50,100,150,200,250,300,350,400,450,500,550,600,650,700,750,800]}}},
"layer":[
{"data":{"name":"ul"},"mark":{"type":"line","strokeWidth":2,"clip":true,"interpolate":"monotone"},"encoding":{
"y":{"field":"v","type":"quantitative","scale":{"domain":[-0.61,0.364],"nice":false,"zero":false},"axis":{"orient":"right","title":"U−vrijednost [W/(m²K)]","titleAngle":-90,"titleBaseline":"top","titlePadding":10,"values":[-0.6,-0.55,-0.5,-0.45,-0.4,-0.35,-0.3,-0.25,-0.2,-0.15,-0.1,-0.05,0,0.05,0.1,0.15,0.2,0.25,0.3,0.35],"labelExpr":"abs(round(datum.value*100)) % 20 === 0 ? format(datum.value, '.1f') : ''"}},
"color":{"datum":"UICT,L","type":"nominal","scale":{"domain":["UICT,L","UICT,D","UHFM,L","UHFM,D","Početak ICT","Kraj ICT","Početak HFM","Kraj HFM"],"range":["#FF1A1A","#FFFF00","#1414FF","#1EF01E","#1414FF","#FF1A1A","#1414FF","#FF1A1A"]},"legend":{"title":null,"orient":"none","legendX":835,"legendY":104,"symbolType":"stroke","symbolSize":1600,"symbolStrokeWidth":2,"labelFont":"Liberation Serif","labelFontSize":18,"labelColor":"#222","labelOffset":10,"rowPadding":3,"padding":0}},
"strokeDash":{"datum":"UICT,L","type":"nominal","scale":{"domain":["UICT,L","UICT,D","UHFM,L","UHFM,D","Početak ICT","Kraj ICT","Početak HFM","Kraj HFM"],"range":[[1,0],[1,0],[1,0],[1,0],[6,2,2,2],[6,2,2,2],[3,3],[3,3]]},"legend":{"title":null,"orient":"none","legendX":835,"legendY":104,"symbolType":"stroke","symbolSize":1600,"symbolStrokeWidth":2,"labelFont":"Liberation Serif","labelFontSize":18,"labelColor":"#222","labelOffset":10,"rowPadding":3,"padding":0}}}},
{"data":{"name":"ud"},"mark":{"type":"line","strokeWidth":2,"clip":true,"interpolate":"monotone"},"encoding":{"y":{"field":"v","type":"quantitative"},"color":{"datum":"UICT,D","type":"nominal"},"strokeDash":{"datum":"UICT,D","type":"nominal"}}},
{"data":{"name":"hl"},"mark":{"type":"line","strokeWidth":2,"clip":true,"interpolate":"monotone"},"encoding":{"y":{"field":"v","type":"quantitative"},"color":{"datum":"UHFM,L","type":"nominal"},"strokeDash":{"datum":"UHFM,L","type":"nominal"}}},
{"data":{"name":"hd"},"mark":{"type":"line","strokeWidth":2,"clip":true,"interpolate":"monotone"},"encoding":{"y":{"field":"v","type":"quantitative"},"color":{"datum":"UHFM,D","type":"nominal"},"strokeDash":{"datum":"UHFM,D","type":"nominal"}}},
{"data":{"name":"pi"},"mark":{"type":"rule","strokeWidth":2.5},"encoding":{"color":{"datum":"Početak ICT","type":"nominal"},"strokeDash":{"datum":"Početak ICT","type":"nominal"}}},
{"data":{"name":"ki"},"mark":{"type":"rule","strokeWidth":2.2},"encoding":{"color":{"datum":"Kraj ICT","type":"nominal"},"strokeDash":{"datum":"Kraj ICT","type":"nominal"}}},
{"data":{"name":"ph"},"mark":{"type":"rule","strokeWidth":2.2},"encoding":{"color":{"datum":"Početak HFM","type":"nominal"},"strokeDash":{"datum":"Početak HFM","type":"nominal"}}},
{"data":{"name":"kh"},"mark":{"type":"rule","strokeWidth":2.2},"encoding":{"color":{"datum":"Kraj HFM","type":"nominal"},"strokeDash":{"datum":"Kraj HFM","type":"nominal"}}}
]}
],
"resolve":{"scale":{"y":"independent","color":"independent","strokeDash":"independent"}}
}
